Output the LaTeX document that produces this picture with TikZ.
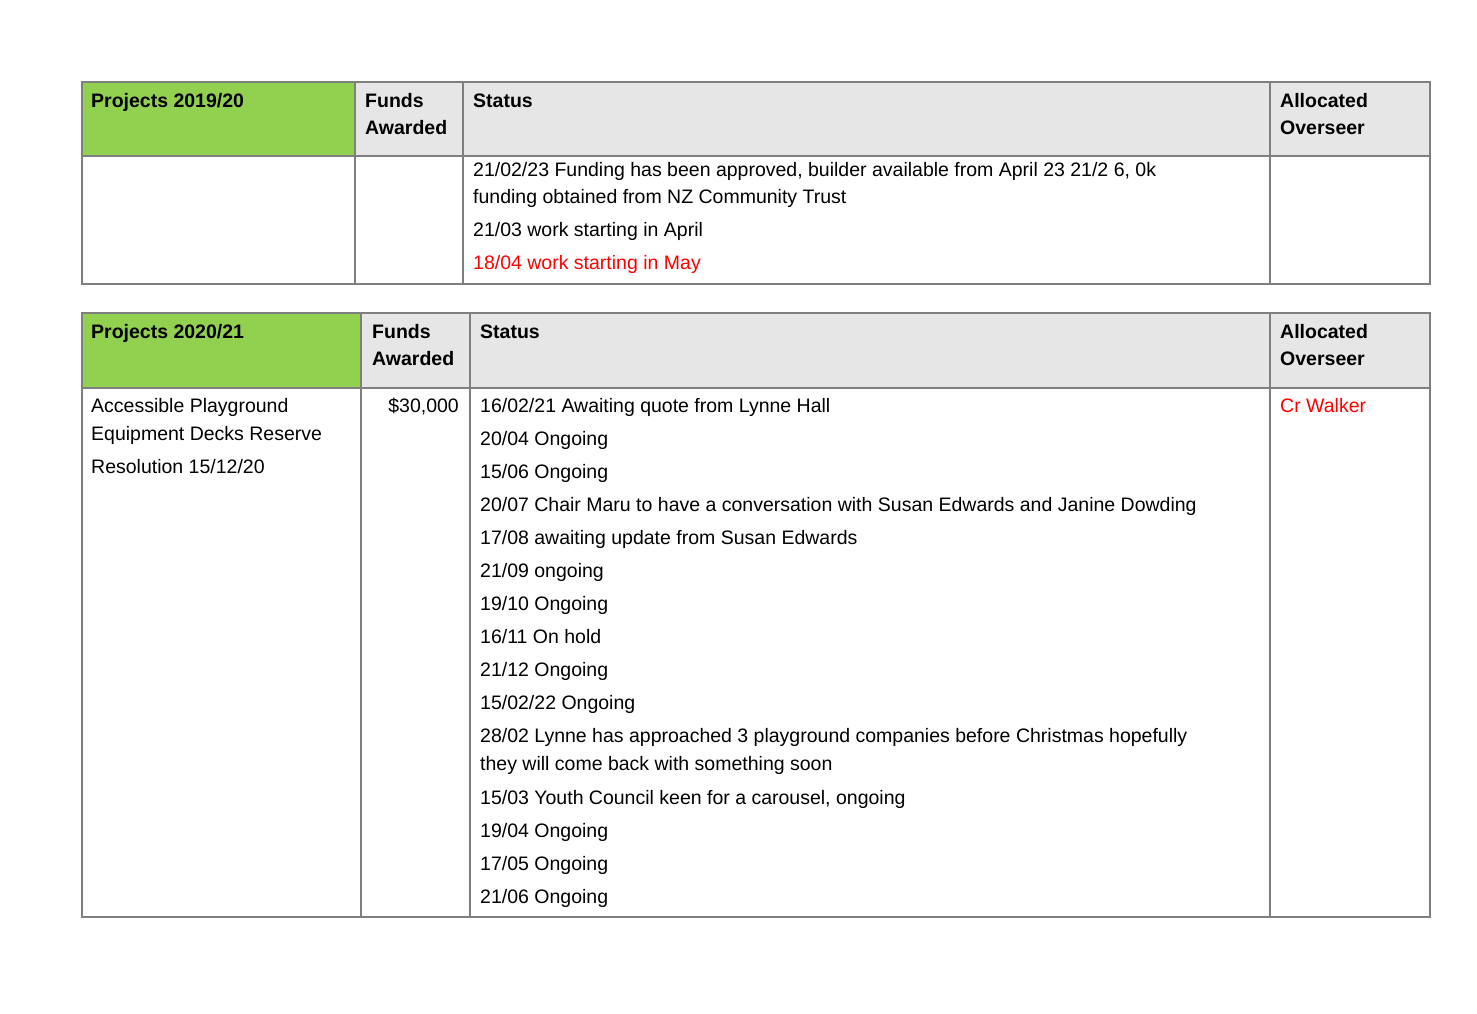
\documentclass[tikz,border=0pt]{standalone}
\usepackage{fontspec}
\setmainfont{Liberation Sans}
\definecolor{hdrgreen}{HTML}{92D050}
\definecolor{hdrgray}{HTML}{E7E6E6}
\definecolor{rulegray}{HTML}{7F7F7F}
\definecolor{txtred}{HTML}{FF0000}
\begin{document}
\begin{tikzpicture}[x=1pt,y=-1pt,
  txt/.style={anchor=base west,inner sep=0pt,font=\fontsize{19.5}{26}\selectfont},
  hd/.style={txt,font=\fontsize{19.5}{26}\selectfont\bfseries},
  rl/.style={draw=rulegray,line width=1.2pt}]
\useasboundingbox[fill=white] (0,0) rectangle (1477,1013);
% table 1
\fill[hdrgreen] (82,82) rectangle (355,156);
\fill[hdrgray] (355,82) rectangle (1430,156);
\draw[rl] (82,82) rectangle (1430,284);
\draw[rl] (82,156) -- (1430,156);
\foreach \x in {355,463,1270} \draw[rl] (\x,82) -- (\x,284);
\node[hd] (a1) at (91,107) {Projects 2019/20};
\node[hd] (a2) at (365,107) {Funds};
\node[hd] (a3) at (365,134) {Awarded};
\node[hd] (a4) at (473,107) {Status};
\node[hd] (a5) at (1280,107) {Allocated};
\node[hd] (a6) at (1280,134) {Overseer};
\node[txt] (b1) at (473,176) {21/02/23 Funding has been approved, builder available from April 23 21/2 6, 0k};
\node[txt] (b2) at (473,203) {funding obtained from NZ Community Trust};
\node[txt] (b3) at (473,236) {21/03 work starting in April};
\node[txt,text=txtred] (b4) at (473,269) {18/04 work starting in May};
% table 2
\fill[hdrgreen] (82,313) rectangle (361,388);
\fill[hdrgray] (361,313) rectangle (1430,388);
\draw[rl] (82,313) rectangle (1430,917);
\draw[rl] (82,388) -- (1430,388);
\foreach \x in {361,470,1270} \draw[rl] (\x,313) -- (\x,917);
\node[hd] (c1) at (91,338) {Projects 2020/21};
\node[hd] (c2) at (372,338) {Funds};
\node[hd] (c3) at (372,365) {Awarded};
\node[hd] (c4) at (480,338) {Status};
\node[hd] (c5) at (1280,338) {Allocated};
\node[hd] (c6) at (1280,365) {Overseer};
\node[txt] (d1) at (91,412) {Accessible Playground};
\node[txt] (d2) at (91,440) {Equipment Decks Reserve};
\node[txt] (d3) at (91,473) {Resolution 15/12/20};
\node[txt,anchor=base east] (d4) at (459,412) {\$30,000};
\node[txt,text=txtred] (d5) at (1280,412) {Cr Walker};
\foreach \t [count=\i] in {16/02/21 Awaiting quote from Lynne Hall,20/04 Ongoing,15/06 Ongoing,20/07 Chair Maru to have a conversation with Susan Edwards and Janine Dowding,17/08 awaiting update from Susan Edwards,21/09 ongoing,19/10 Ongoing,16/11 On hold,21/12 Ongoing,15/02/22 Ongoing,28/02 Lynne has approached 3 playground companies before Christmas hopefully}
  \node[txt] (s\i) at (480,{412+33*(\i-1)}) {\t};
\node[txt] (s12) at (480,770) {they will come back with something soon};
\foreach \t [count=\i] in {{15/03 Youth Council keen for a carousel, ongoing},19/04 Ongoing,17/05 Ongoing,21/06 Ongoing}
  \node[txt] (t\i) at (480,{804+33*(\i-1)}) {\t};
\end{tikzpicture}
\end{document}
